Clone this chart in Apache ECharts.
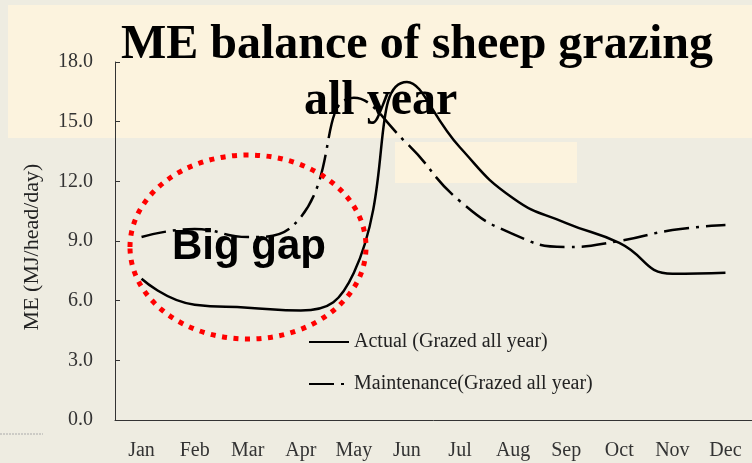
<!DOCTYPE html>
<html>
<head>
<meta charset="utf-8">
<script src="https://cdn.jsdelivr.net/npm/echarts@6/dist/echarts.min.js"></script>
<style>
  html, body { margin: 0; padding: 0; background: #eeece1; }
  #chart { width: 752px; height: 463px; }
</style>
</head>
<body>
<div id="chart"></div>
<script>
// months on the x axis
var months = ["Jan", "Feb", "Mar", "Apr", "May", "Jun", "Jul", "Aug", "Sep", "Oct", "Nov", "Dec"];
// ME intake (MJ/head/day)
var actual = [7.1, 5.8, 5.65, 5.5, 7.4, 17.0, 13.7, 11.15, 9.9, 8.9, 7.35, 7.4];
var maintenance = [9.2, 9.6, 9.2, 10.2, 16.2, 13.9, 11.0, 9.35, 8.7, 9.0, 9.55, 9.8];

var serif = "'Liberation Serif', 'Times New Roman', serif";

var chart = echarts.init(document.getElementById("chart"));

chart.setOption({
  backgroundColor: "#eeece1",
  animation: false,
  grid: {
    left: 115,
    top: 62,
    width: 646,
    bottom: 43,
  },
  legend: {
    orient: "vertical",
    left: 303,
    top: 327,
    itemWidth: 40,
    itemHeight: 14,
    itemGap: 22,
    itemStyle: { opacity: 0 },
    textStyle: { fontFamily: serif, fontSize: 20, color: "#222" },
    data: ["Actual (Grazed all year)", "Maintenance(Grazed all year)"],
  },
  xAxis: {
    type: "category",
    data: months,
    boundaryGap: true,
    axisLine: { lineStyle: { color: "#333", width: 1 } },
    axisTick: { inside: true, length: 6, lineStyle: { color: "#333" } },
    axisLabel: { fontFamily: serif, fontSize: 20, color: "#333", margin: 21 },
  },
  yAxis: {
    type: "value",
    min: 0,
    max: 18,
    interval: 3,
    name: "ME (MJ/head/day)",
    nameLocation: "middle",
    nameGap: 72,
    nameTextStyle: { fontFamily: serif, fontSize: 22, color: "#222", padding: [0, 12, 0, 0] },
    axisLine: { show: true, lineStyle: { color: "#333", width: 1 } },
    axisTick: { show: true, inside: true, length: 5, lineStyle: { color: "#333" } },
    splitLine: { show: false },
    axisLabel: {
      fontFamily: serif,
      fontSize: 20,
      color: "#333",
      margin: 22,
      formatter: function (v) {
        return v.toFixed(1);
      },
    },
  },
  series: [
    {
      name: "Actual (Grazed all year)",
      type: "line",
      data: actual,
      smooth: 0.5,
      symbol: "none",
      lineStyle: { color: "#000", width: 2.5 },
      itemStyle: { color: "#000" },
      z: 3,
    },
    {
      name: "Maintenance(Grazed all year)",
      type: "line",
      data: maintenance,
      smooth: 0.5,
      symbol: "none",
      lineStyle: { color: "#000", width: 2.5, type: [25, 7, 3, 7] },
      itemStyle: { color: "#000" },
      z: 3,
    },
  ],
  graphic: [
    // light band behind the title
    {
      type: "rect",
      z: -10,
      shape: { x: 8, y: 5, width: 760, height: 133 },
      style: { fill: "#fcf3de" },
    },
    {
      type: "rect",
      z: -10,
      shape: { x: 395, y: 142, width: 182, height: 41 },
      style: { fill: "#fcf3de" },
    },
    // little dotted mark at bottom left
    {
      type: "line",
      shape: { x1: 0, y1: 434, x2: 43, y2: 434 },
      style: { stroke: "#aaa", lineWidth: 1, lineDash: [2, 1] },
    },
    {
      type: "text",
      z: 10,
      style: {
        text: "ME balance of sheep grazing",
        x: 121,
        y: 46,
        font: "bold 48px " + serif,
        fill: "#000",
        textAlign: "left",
        textVerticalAlign: "middle",
      },
    },
    {
      type: "text",
      z: 10,
      style: {
        text: "all year",
        x: 304,
        y: 102,
        font: "bold 48px " + serif,
        fill: "#000",
        textAlign: "left",
        textVerticalAlign: "middle",
      },
    },
    // red dotted ellipse round the gap
    {
      type: "ellipse",
      z: 10,
      shape: { cx: 248, cy: 247, rx: 118, ry: 92 },
      style: { fill: "none", stroke: "#ff0000", lineWidth: 5, lineDash: [5, 6.5] },
    },
    {
      type: "text",
      z: 10,
      style: {
        text: "Big gap",
        x: 172,
        y: 247,
        font: "bold 42px 'Liberation Sans', Arial, sans-serif",
        fill: "#000",
        textAlign: "left",
        textVerticalAlign: "middle",
      },
    },
  ],
});
</script>
</body>
</html>
